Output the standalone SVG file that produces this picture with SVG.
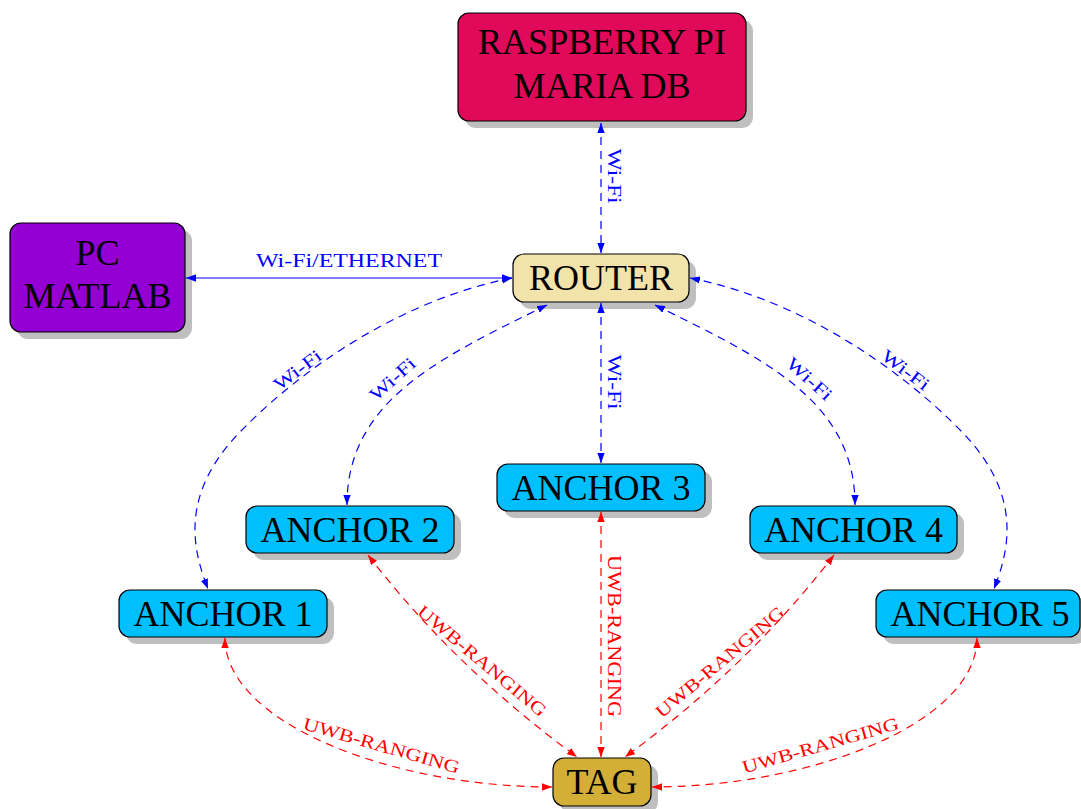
<svg xmlns="http://www.w3.org/2000/svg" width="1081" height="809" viewBox="0 0 1081 809">
<style>
.box{stroke:#000;stroke-width:1.2}
.sh{fill:#bfbfbf}
.nt{font-family:"Liberation Serif","Times New Roman",serif;font-size:36px;fill:#000;text-anchor:middle}
.lb{font-family:"Liberation Serif","Times New Roman",serif;font-size:18px;text-anchor:middle}
.lbb{fill:#00f}
.lbr{fill:#f00}
.bl{fill:none;stroke:#00f;stroke-width:1.2;marker-start:url(#ab);marker-end:url(#ab)}
.rd{fill:none;stroke:#f00;stroke-width:1.2;stroke-dasharray:8 6;marker-start:url(#ar);marker-end:url(#ar)}
.dash{stroke-dasharray:8 6}
</style>
<defs>
<marker id="ab" viewBox="0 0 10 8" refX="10" refY="4" markerWidth="10" markerHeight="8" markerUnits="userSpaceOnUse" orient="auto-start-reverse"><path d="M0,0.3 L10,4 L0,7.7 z" fill="#00f"/></marker>
<marker id="ar" viewBox="0 0 10 8" refX="10" refY="4" markerWidth="10" markerHeight="8" markerUnits="userSpaceOnUse" orient="auto-start-reverse"><path d="M0,0.3 L10,4 L0,7.7 z" fill="#f00"/></marker>
</defs>

<g id="rpi">
<rect class="sh" x="465" y="20" width="288" height="108" rx="11"/>
<rect class="box" x="458" y="13" width="288" height="108" rx="11" fill="#E10A5A"/>
<text class="nt" x="602" y="54">RASPBERRY PI</text>
<text class="nt" x="602" y="98">MARIA DB</text>
</g>
<g id="pc">
<rect class="sh" x="17" y="230" width="175" height="109" rx="11"/>
<rect class="box" x="10" y="223" width="175" height="109" rx="11" fill="#9400D3"/>
<text class="nt" x="97.5" y="265">PC</text>
<text class="nt" x="97.5" y="308">MATLAB</text>
</g>
<g id="router">
<rect class="sh" x="520" y="261" width="176" height="48" rx="11"/>
<rect class="box" x="513" y="254" width="176" height="48" rx="11" fill="#F1E3AA"/>
<text class="nt" x="601" y="290">ROUTER</text>
</g>
<g id="anchor1">
<rect class="sh" x="126" y="597" width="208" height="47" rx="11"/>
<rect class="box" x="119" y="590" width="208" height="47" rx="11" fill="#00BFFF"/>
<text class="nt" x="223" y="626">ANCHOR 1</text>
</g>
<g id="anchor2">
<rect class="sh" x="253" y="513" width="208" height="47" rx="11"/>
<rect class="box" x="246" y="506" width="208" height="47" rx="11" fill="#00BFFF"/>
<text class="nt" x="350" y="542">ANCHOR 2</text>
</g>
<g id="anchor3">
<rect class="sh" x="504" y="471" width="208" height="47" rx="11"/>
<rect class="box" x="497" y="464" width="208" height="47" rx="11" fill="#00BFFF"/>
<text class="nt" x="601" y="500">ANCHOR 3</text>
</g>
<g id="anchor4">
<rect class="sh" x="757" y="513" width="207" height="47" rx="11"/>
<rect class="box" x="750" y="506" width="207" height="47" rx="11" fill="#00BFFF"/>
<text class="nt" x="853.5" y="542">ANCHOR 4</text>
</g>
<g id="anchor5">
<rect class="sh" x="883" y="597" width="204" height="47" rx="11"/>
<rect class="box" x="876" y="590" width="204" height="47" rx="11" fill="#00BFFF"/>
<text class="nt" x="980" y="626">ANCHOR 5</text>
</g>
<g id="tag">
<rect class="sh" x="560" y="765" width="98" height="48" rx="11"/>
<rect class="box" x="553" y="758" width="98" height="48" rx="11" fill="#D4AF37"/>
<text class="nt" x="602" y="794">TAG</text>
</g>

<g id="connectors">
<path class="bl dash" d="M601,123 L601,253"/>
<path class="bl" d="M186,278 L512,278"/>
<path class="bl dash" d="M601,303 L601,463"/>
<path class="bl dash" d="M512,278 C400,300 300,370 240,432 S192,548 208,589"/>
<path class="bl dash" d="M547,305 C440,358 347,400 347,505"/>
<path class="bl dash" d="M655,305 C762,358 855,400 855,505"/>
<path class="bl dash" d="M690,278 C802,300 902,370 962,432 S1010,548 994,589"/>

<path class="rd" d="M601,512 L601,757"/>
<path class="rd" d="M368,555 C428,633 498,699 577,757"/>
<path class="rd" d="M834,555 C774,633 704,699 625,757"/>
<path class="rd" d="M225,638 C225,723 392,787 552,787"/>
<path class="rd" d="M977,638 C977,723 811,787 652,787"/>

<text class="lb lbb" transform="translate(614,176) rotate(90)" x="0" y="6" textLength="55" lengthAdjust="spacingAndGlyphs">Wi-Fi</text>
<text class="lb lbb" x="349" y="267" textLength="186" lengthAdjust="spacingAndGlyphs">Wi-Fi/ETHERNET</text>
<text class="lb lbb" transform="translate(614,382) rotate(90)" x="0" y="6" textLength="55" lengthAdjust="spacingAndGlyphs">Wi-Fi</text>
<text class="lb lbb" transform="translate(297.5,370) rotate(-37)" x="0" y="6" textLength="55" lengthAdjust="spacingAndGlyphs">Wi-Fi</text>
<text class="lb lbb" transform="translate(392.5,379) rotate(-42)" x="0" y="6" textLength="55" lengthAdjust="spacingAndGlyphs">Wi-Fi</text>
<text class="lb lbb" transform="translate(809.5,379) rotate(42)" x="0" y="6" textLength="55" lengthAdjust="spacingAndGlyphs">Wi-Fi</text>
<text class="lb lbb" transform="translate(905.5,370) rotate(37)" x="0" y="6" textLength="55" lengthAdjust="spacingAndGlyphs">Wi-Fi</text>

<text class="lb lbr" transform="translate(614,636) rotate(90)" x="0" y="6" textLength="162" lengthAdjust="spacingAndGlyphs">UWB-RANGING</text>
<text class="lb lbr" transform="translate(482,661) rotate(40)" x="0" y="6" textLength="162" lengthAdjust="spacingAndGlyphs">UWB-RANGING</text>
<text class="lb lbr" transform="translate(720,662) rotate(-40)" x="0" y="6" textLength="162" lengthAdjust="spacingAndGlyphs">UWB-RANGING</text>
<text class="lb lbr" transform="translate(381.5,745.5) rotate(16)" x="0" y="6" textLength="162" lengthAdjust="spacingAndGlyphs">UWB-RANGING</text>
<text class="lb lbr" transform="translate(820.5,745.5) rotate(-16)" x="0" y="6" textLength="162" lengthAdjust="spacingAndGlyphs">UWB-RANGING</text>
</g>
</svg>
